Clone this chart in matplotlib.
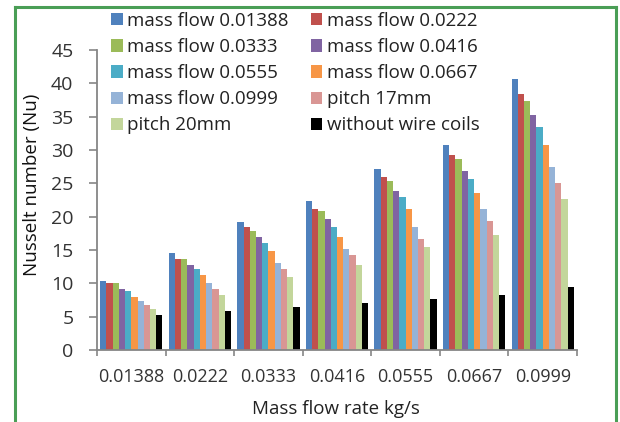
import numpy as np
import matplotlib
matplotlib.use('Agg')
import matplotlib.pyplot as plt
from matplotlib.lines import Line2D

# categories (mass flow rate, kg/s)
groups = ['0.01388', '0.0222', '0.0333', '0.0416', '0.0555', '0.0667', '0.0999']

# series names
series = ['mass flow 0.01388', 'mass flow 0.0222', 'mass flow 0.0333',
          'mass flow 0.0416', 'mass flow 0.0555', 'mass flow 0.0667',
          'mass flow 0.0999', 'pitch 17mm', 'pitch 20mm', 'without wire coils']

# Nusselt numbers, one list per series
mf_01388 = [10.3, 14.6, 19.2, 22.4, 27.2, 30.8, 40.7]
mf_0222 = [10.0, 13.7, 18.4, 21.2, 26.0, 29.3, 38.4]
mf_0333 = [10.0, 13.7, 17.9, 20.9, 25.4, 28.7, 37.4]
mf_0416 = [9.1, 12.75, 17.0, 19.7, 23.9, 26.9, 35.3]
mf_0555 = [8.8, 12.15, 16.1, 18.5, 23.0, 25.7, 33.5]
mf_0667 = [7.9, 11.25, 14.9, 17.0, 21.2, 23.6, 30.8]
mf_0999 = [7.3, 10.05, 13.05, 15.2, 18.5, 21.2, 27.5]
pitch_17 = [6.7, 9.15, 12.2, 14.25, 16.7, 19.4, 25.1]
pitch_20 = [6.1, 8.25, 10.95, 12.75, 15.5, 17.3, 22.7]
no_coils = [5.2, 5.85, 6.45, 7.05, 7.65, 8.25, 9.45]

data = [mf_01388, mf_0222, mf_0333, mf_0416, mf_0555, mf_0667, mf_0999,
        pitch_17, pitch_20, no_coils]

colors = ['#4F81BD', '#C0504D', '#9BBB59', '#8064A2', '#4BACC6',
          '#F79646', '#95B3D7', '#D99694', '#C3D69B', '#000000']

plt.rcParams['font.family'] = ['Open Sans', 'DejaVu Sans']

fig = plt.figure(figsize=(6.2, 4.22), dpi=100)
ax = fig.add_axes([97 / 620, 1 - 350 / 422, 480 / 620, 300 / 422])

x = np.arange(len(groups))
w = 0.907 / len(series)
bars = []
for i, vals in enumerate(data):
    b = ax.bar(x + (i - 4.5) * w, vals, w, color=colors[i], label=series[i])
    bars.append(b)

ax.set_xlim(-0.5, 6.5)
ax.set_ylim(0, 45)
ax.set_yticks(range(0, 46, 5))
ax.set_xticks(x)
ax.set_xticklabels(groups, fontsize=13, color='#333333')
ax.set_xticks(np.arange(-0.5, 7, 1), minor=True)
ax.tick_params(axis='x', which='major', length=0, pad=13)
ax.tick_params(axis='x', which='minor', length=4.5, color='#868686', width=1.2)
ax.tick_params(axis='y', length=6, color='#868686', width=1.2, labelsize=14,
               labelcolor='#333333', pad=11)

for s in ['top', 'right']:
    ax.spines[s].set_visible(False)
for s in ['left', 'bottom']:
    ax.spines[s].set_color('#868686')
    ax.spines[s].set_linewidth(1.3)

# axis titles
fig.text(32 / 620, 1 - 185 / 422, 'Nusselt number (Nu)', rotation=90,
         fontsize=13.5, color='#111111', ha='center', va='center')
fig.text(336 / 620, 1 - 409 / 422, 'Mass flow rate kg/s', fontsize=13.5,
         color='#222222', ha='center', va='center')

# legend: row-major order like the original
order = [0, 2, 4, 6, 8, 1, 3, 5, 7, 9]
leg = fig.legend([bars[i] for i in order], [series[i] for i in order],
                 ncol=2, loc='upper left', bbox_to_anchor=(111 / 620, 1 - 12 / 422),
                 frameon=False, fontsize=13.5, handlelength=0.62, handleheight=0.62,
                 handletextpad=0.25, labelspacing=0.43, columnspacing=1.17,
                 borderaxespad=0, borderpad=0)
for t in leg.get_texts():
    t.set_color('#222222')

# green frame around the picture
g = '#4A9E56'
fig.add_artist(Line2D([14.5 / 620, 14.5 / 620], [0, 1 - 7 / 422], color=g, lw=2.2,
                      transform=fig.transFigure))
fig.add_artist(Line2D([14.5 / 620, 616 / 620], [1 - 7 / 422, 1 - 7 / 422], color=g,
                      lw=2.2, transform=fig.transFigure))
fig.add_artist(Line2D([616 / 620, 616 / 620], [0, 1 - 7 / 422], color=g, lw=2.2,
                      transform=fig.transFigure))

fig.savefig('out.png', dpi=100)
